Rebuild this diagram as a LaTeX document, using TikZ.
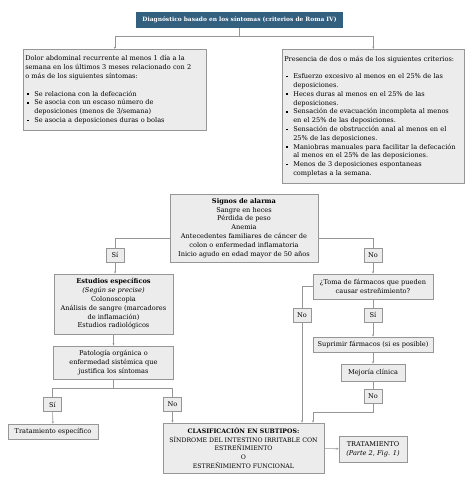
\documentclass[tikz,border=0pt]{standalone}
\usepackage{fontspec}
\setmainfont{DejaVu Serif}
\usetikzlibrary{arrows.meta, positioning, calc}
\definecolor{titleblue}{RGB}{52,96,128}
\definecolor{boxgray}{RGB}{236,236,236}
\definecolor{edgegray}{RGB}{150,150,150}
\newcommand{\sqbullet}{\rule[1.2pt]{1.6pt}{1.6pt}}
\newcommand{\itm}{\hspace*{2pt}\makebox[7pt][l]{\sqbullet}}
\newcommand{\cont}{\hspace*{9pt}}

\begin{document}
\begin{tikzpicture}[
        x=1pt, y=-1pt,
        every node/.style={font=\fontsize{6.6}{8.8}\selectfont},
        box/.style={rectangle, draw=edgegray, fill=boxgray, line width=0.6pt, align=center, inner sep=2pt},
        titlebox/.style={rectangle, fill=titleblue, text=white, font=\fontsize{5.9}{7}\selectfont\bfseries, minimum width=207pt, minimum height=16pt},
        tag/.style={box, minimum width=18pt, minimum height=14pt, inner sep=1pt},
        link/.style={draw=edgegray, line width=0.6pt},
        arr/.style={link, -{Stealth[length=2.4pt,width=2pt]}}
    ]
        \useasboundingbox (0,0) rectangle (474,482);

        % criterios de Roma IV
        \node[titlebox] (diag) at (239.5,20) {Diagnóstico basado en los síntomas (criterios de Roma IV)};
        \node[box, anchor=north west, text width=179pt, align=left, minimum height=81pt] (dolor) at (23,49) {Dolor abdominal recurrente al menos 1 día a la\\semana en los últimos 3 meses relacionado con 2\\o más de los siguientes síntomas:\\[8.8pt]\itm Se relaciona con la defecación\\\itm Se asocia con un escaso  número de\\\cont deposiciones (menos de 3/semana)\\\itm Se asocia a deposiciones duras o bolas};
        \node[box, anchor=north west, text width=178pt, align=left, minimum height=134pt] (criterios) at (282,49) {Presencia de dos o más de los siguientes criterios:\\[8.8pt]\itm Esfuerzo excesivo al menos en el 25\% de las\\\cont deposiciones.\\\itm Heces duras al menos en el 25\% de las\\\cont deposiciones.\\\itm Sensación de evacuación incompleta al menos\\\cont en el 25\% de las deposiciones.\\\itm Sensación de obstrucción anal al menos en el\\\cont 25\% de las deposiciones.\\\itm Maniobras manuales para facilitar la defecación\\\cont al menos en el 25\% de las deposiciones.\\\itm Menos de 3 deposiciones espontaneas\\\cont completas a la semana.};

        % signos de alarma
        \node[box, minimum width=148pt, minimum height=68pt] (alarma) at (244,228) {\textbf{Signos de alarma}\\Sangre en heces\\Pérdida de peso\\Anemia\\Antecedentes familiares de cáncer de\\colon o enfermedad inflamatoria\\Inicio agudo en edad mayor de 50 años};
        \node[tag] (si1) at (115,255) {Sí};
        \node[tag] (no1) at (373,255) {No};

        % rama izquierda
        \node[box, minimum width=119pt, minimum height=60pt] (estudios) at (113.5,304) {\textbf{Estudios específicos}\\\textit{(Según se precise)}\\Colonoscopia\\Análisis de sangre (marcadores\\de inflamación)\\Estudios radiológicos};
        \node[box, minimum width=120pt, minimum height=33pt] (patologia) at (113.5,362.5) {Patología orgánica o\\enfermedad sistémica que\\justifica los síntomas};
        \node[tag] (si3) at (52.5,404.5) {Sí};
        \node[tag] (no4) at (172.5,404.5) {No};
        \node[box, minimum width=90pt, minimum height=15pt] (especifico) at (53,431.5) {Tratamiento específico};

        % rama derecha
        \node[box, minimum width=120pt, minimum height=25pt] (toma) at (373,286.5) {¿Toma de fármacos que pueden\\causar estreñimiento?};
        \node[tag] (no2) at (302,315) {No};
        \node[tag] (si2) at (373,315) {Sí};
        \node[box, minimum width=120pt, minimum height=15pt] (suprimir) at (373,344.5) {Suprimir fármacos (si es posible)};
        \node[box, minimum width=64pt, minimum height=17pt] (mejoria) at (373,372.5) {Mejoría clínica};
        \node[tag] (no3) at (373,396.5) {No};

        % subtipos
        \node[box, minimum width=161pt, minimum height=50pt, font=\fontsize{6.2}{8.6}\selectfont] (subtipos) at (243.5,448) {\textbf{CLASIFICACIÓN EN SUBTIPOS:}\\SÍNDROME DEL INTESTINO IRRITABLE CON\\ESTREÑIMIENTO\\O\\ESTREÑIMIENTO FUNCIONAL};
        \node[box, minimum width=68pt, minimum height=26pt] (tratamiento) at (373,449) {TRATAMIENTO\\\textit{(Parte 2, Fig. 1)}};

        \coordinate (split) at (239.5,36);
        \coordinate (fork) at (113.5,388);
        \coordinate (back) at (313,412);

        \draw[link] (diag.south) -- (split);
        \draw[arr] (split) -| (dolor.north);
        \draw[arr] (split) -| (criterios.north);

        \draw[link] ([yshift=-10pt]alarma.west) -| (si1.north);
        \draw[arr] (si1.south) -- (si1.south |- estudios.north);
        \draw[link] ([yshift=-10pt]alarma.east) -| (no1.north);
        \draw[arr] (no1) -- (toma);

        \draw[arr] (estudios) -- (patologia);
        \draw[link] (patologia.south) -- (fork) -| (si3.north);
        \draw[link] (fork) -| (no4.north);
        \draw[arr] (si3) -- (especifico);
        \draw[arr] (no4.south) -- (no4.south |- subtipos.north);

        \draw[link] (toma.west) -| (no2.north);
        \draw[arr] (no2.south) -- (no2.south |- subtipos.north);
        \draw[link] (toma) -- (si2);
        \draw[arr] (si2) -- (suprimir);
        \draw[arr] (suprimir) -- (mejoria);
        \draw[link] (mejoria) -- (no3);
        \draw[arr] (no3.south) |- (back) -- (back |- subtipos.north);

        \draw[arr] (subtipos) -- (tratamiento);
    \end{tikzpicture}
\end{document}
